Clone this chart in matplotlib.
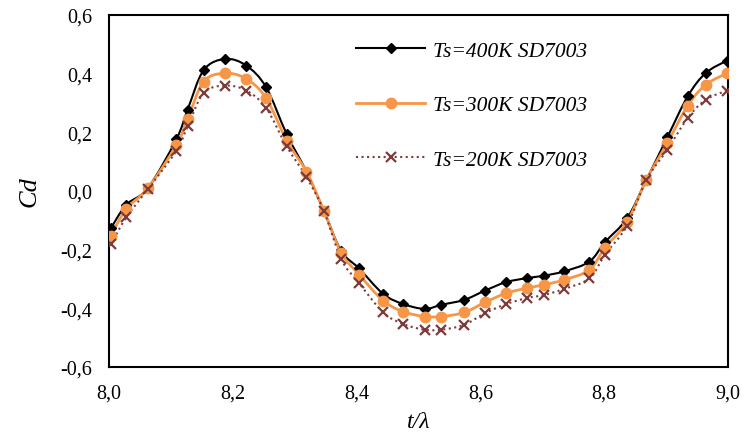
import matplotlib
matplotlib.use("Agg")
import matplotlib.pyplot as plt
import numpy as np
from matplotlib.path import Path
from matplotlib.patches import PathPatch
from matplotlib.lines import Line2D
from matplotlib.ticker import FuncFormatter

t = [8.003, 8.028, 8.063, 8.109, 8.127, 8.153, 8.188, 8.222, 8.254, 8.287, 8.319,
     8.347, 8.375, 8.404, 8.443, 8.475, 8.510, 8.537, 8.574, 8.607, 8.641, 8.675,
     8.702, 8.735, 8.776, 8.801, 8.837, 8.868, 8.902, 8.935, 8.964, 8.998]
cd_400 = [-0.127, -0.047, 0.010, 0.177, 0.277, 0.412, 0.450, 0.427, 0.353, 0.194, 0.066,
          -0.067, -0.204, -0.264, -0.351, -0.385, -0.402, -0.388, -0.371, -0.340, -0.311, -0.297,
          -0.289, -0.274, -0.241, -0.175, -0.093, 0.037, 0.183, 0.323, 0.402, 0.444]
cd_300 = [-0.152, -0.061, 0.010, 0.157, 0.245, 0.373, 0.401, 0.382, 0.316, 0.172, 0.066,
          -0.067, -0.210, -0.285, -0.374, -0.411, -0.428, -0.428, -0.414, -0.380, -0.349, -0.331,
          -0.320, -0.303, -0.269, -0.194, -0.105, 0.037, 0.164, 0.291, 0.362, 0.401]
cd_200 = [-0.181, -0.090, 0.007, 0.137, 0.220, 0.334, 0.359, 0.342, 0.282, 0.152, 0.047,
          -0.067, -0.232, -0.314, -0.414, -0.453, -0.473, -0.473, -0.456, -0.417, -0.386, -0.365,
          -0.355, -0.334, -0.298, -0.218, -0.118, 0.037, 0.141, 0.249, 0.311, 0.342]
labels = ["Ts=400K SD7003", "Ts=300K SD7003", "Ts=200K SD7003"]

plt.rcParams['font.family'] = ['Liberation Serif', 'DejaVu Serif']

fig = plt.figure(figsize=(7.44, 4.39), dpi=100)
ax = fig.add_axes([0.1465, 0.1617, 0.832, 0.802])


def smooth_path(x, y):
    x = np.asarray(x, float)
    y = np.asarray(y, float)
    pts = np.column_stack([x, y])
    n = len(pts)
    verts = [pts[0]]
    codes = [Path.MOVETO]
    for i in range(n - 1):
        p0 = pts[i - 1] if i > 0 else pts[i]
        p1 = pts[i]
        p2 = pts[i + 1]
        p3 = pts[i + 2] if i + 2 < n else pts[i + 1]
        c1 = p1 + (p2 - p0) / 6.0
        c2 = p2 - (p3 - p1) / 6.0
        verts += [c1, c2, p2]
        codes += [Path.CURVE4] * 3
    return Path(verts, codes)


styles = [
    dict(color='black', ls='-', lw=1.5, marker='D', ms=5, mew=1.0),
    dict(color='#F79646', ls='-', lw=2.0, marker='o', ms=7.5, mew=1.0),
    dict(color='#7E3B3B', ls=':', lw=1.5, marker='x', ms=7, mew=1.6),
]
series = [cd_400, cd_300, cd_200]
handles = []
for ys, st, lab in zip(series, styles, labels):
    patch = PathPatch(smooth_path(t, ys), facecolor='none', edgecolor=st['color'],
                      lw=st['lw'], linestyle=st['ls'], zorder=2)
    ax.add_patch(patch)
    ax.plot(t, ys, linestyle='none', marker=st['marker'], ms=st['ms'], color=st['color'],
            mew=st['mew'], zorder=3)
    handles.append(Line2D([], [], color=st['color'], ls=st['ls'], lw=st['lw'],
                          marker=st['marker'], ms=st['ms'], mew=st['mew']))

ax.set_xlim(8.0, 9.0)
ax.set_ylim(-0.6, 0.6)
ax.set_xticks(np.arange(8.0, 9.01, 0.2))
ax.set_yticks(np.arange(-0.6, 0.61, 0.2))
fmt = FuncFormatter(lambda v, p: f"{v:.1f}".replace('.', ',').replace('-0,0', '0,0'))
ax.xaxis.set_major_formatter(fmt)
ax.yaxis.set_major_formatter(fmt)
ax.tick_params(length=0, labelsize=14.5, pad=12)
for s in ax.spines.values():
    s.set_linewidth(1.5)

ax.set_xlabel('t/λ', fontsize=17, style='italic', labelpad=6)
ax.set_ylabel('Cd', fontsize=19, style='italic', labelpad=14)

leg = ax.legend(handles, labels, loc='upper left', bbox_to_anchor=(0.382, 0.957),
                frameon=False, borderpad=0, handlelength=3.2, handletextpad=0.35,
                labelspacing=1.6, prop={'size': 15.5, 'style': 'italic'})

fig.savefig('out.png', dpi=100)
